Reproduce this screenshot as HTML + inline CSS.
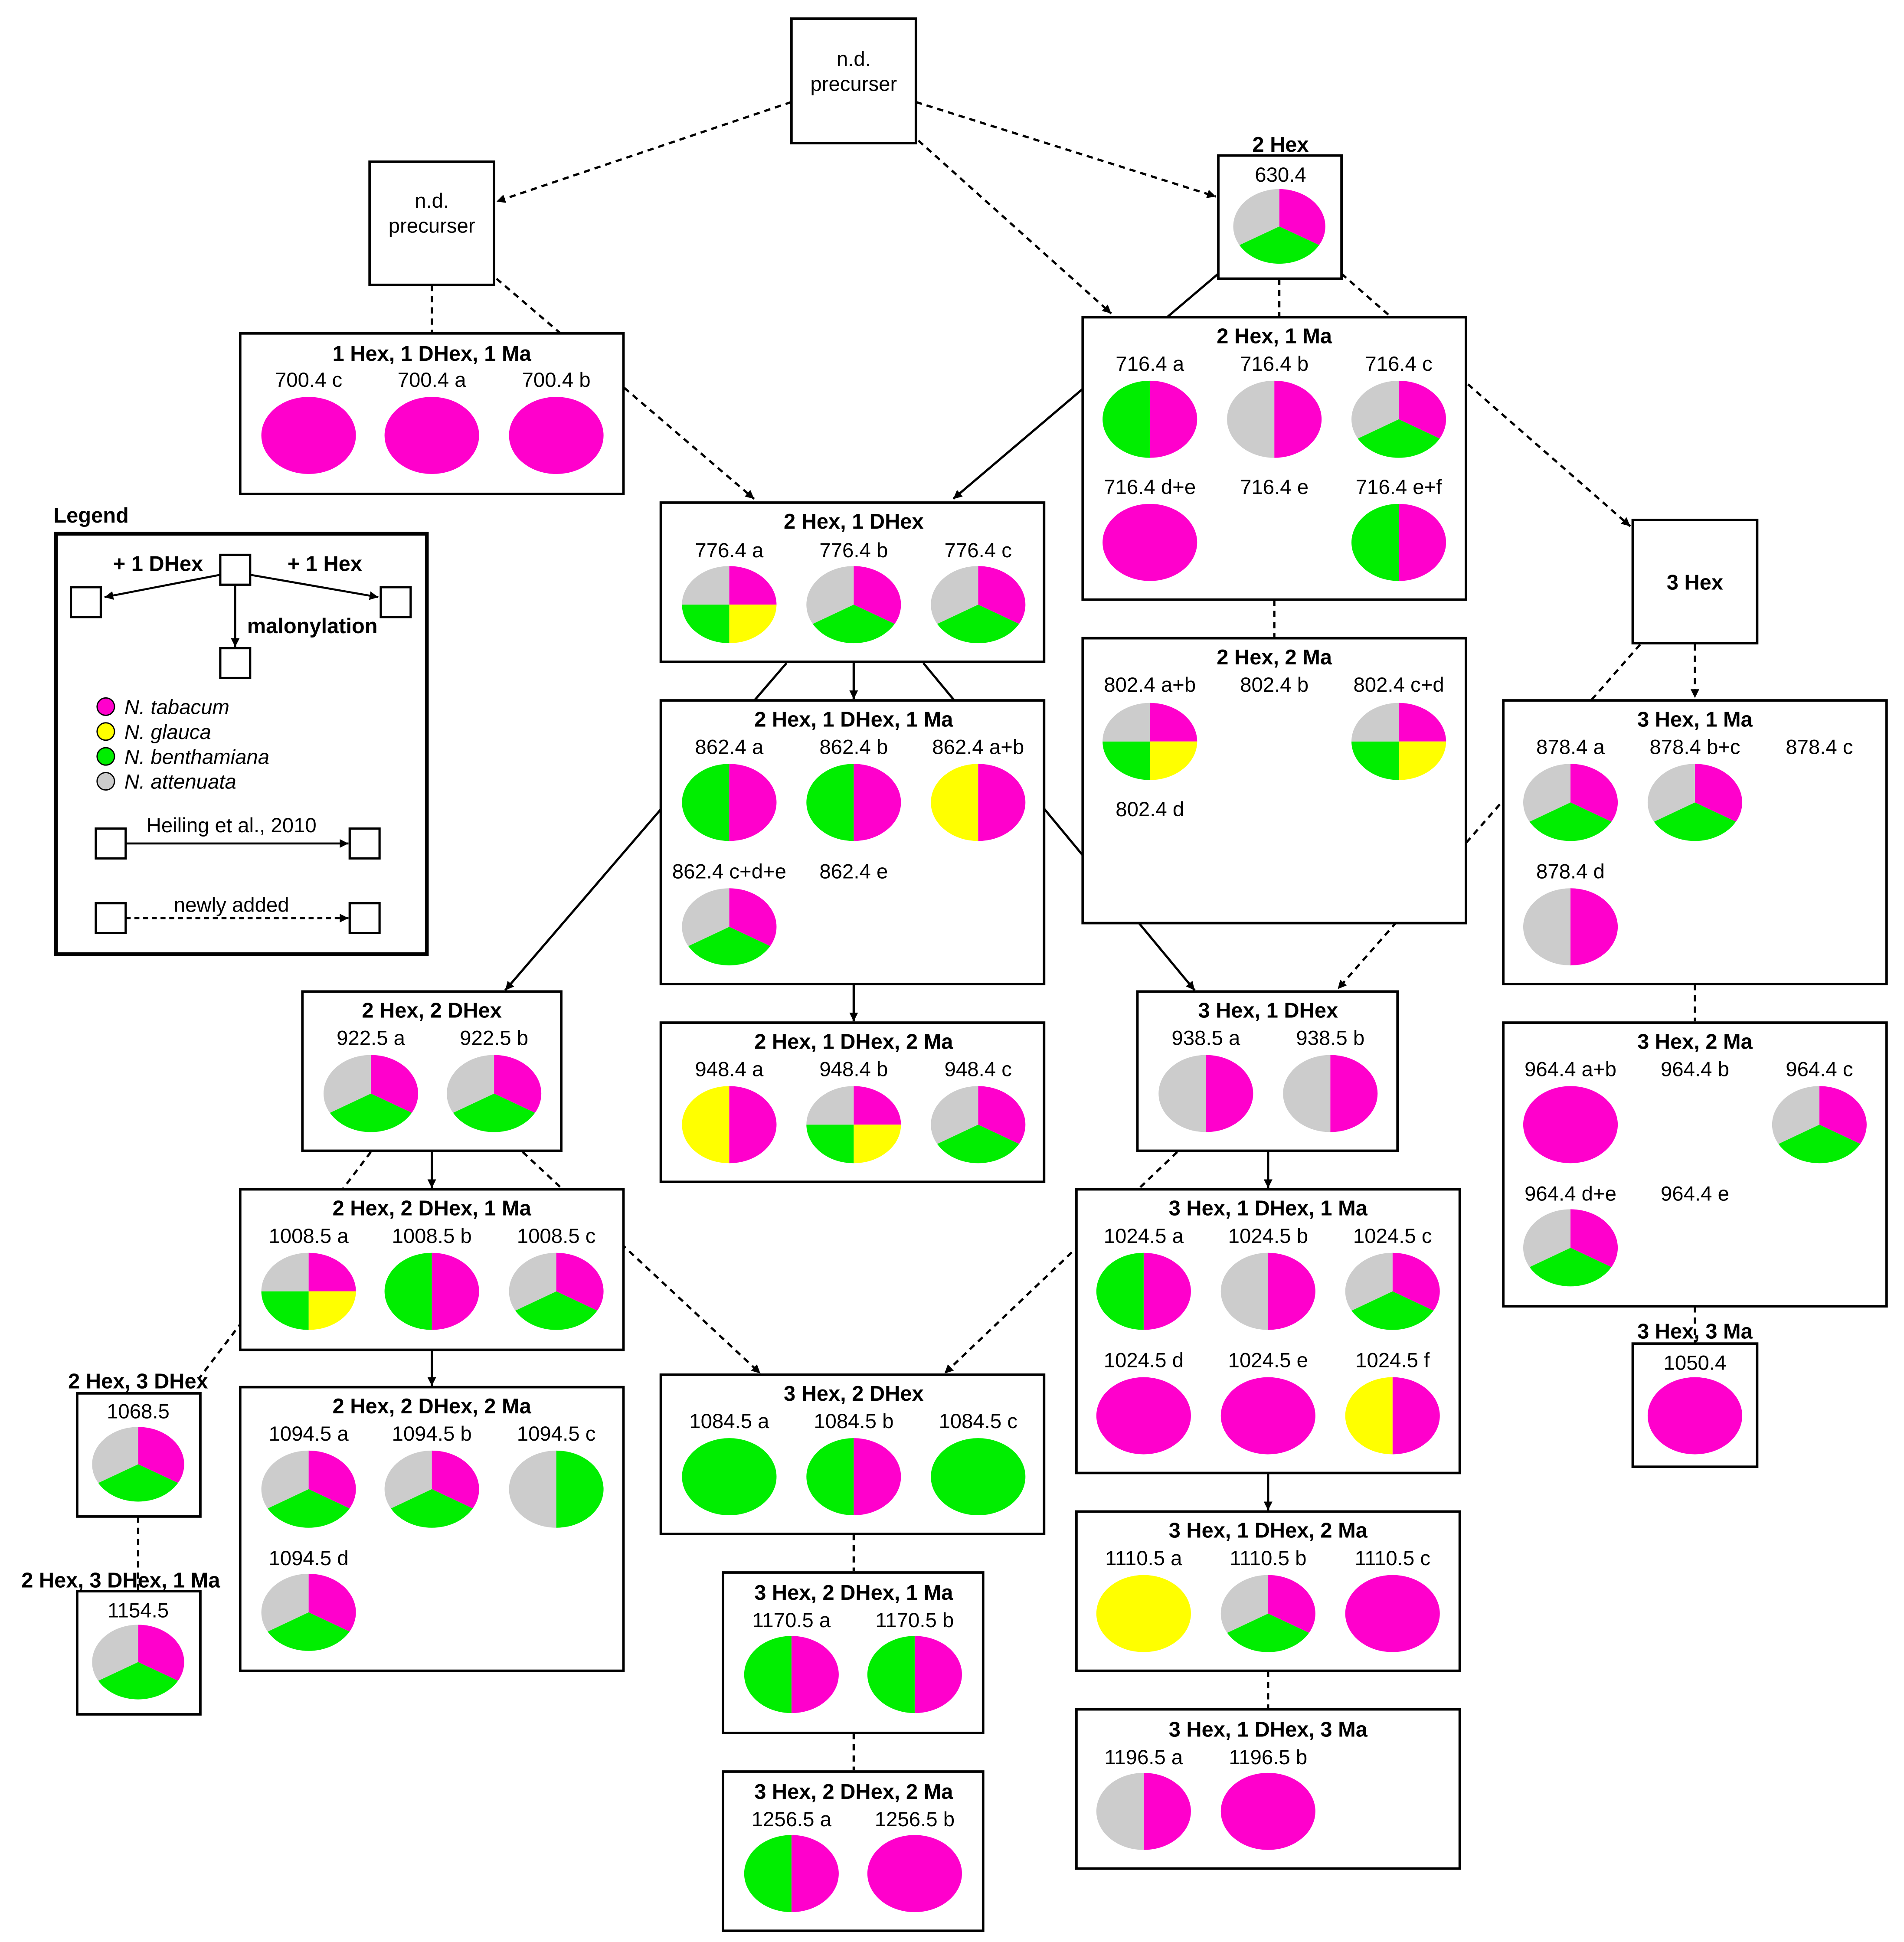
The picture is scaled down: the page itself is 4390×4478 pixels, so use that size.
<!DOCTYPE html>
<html><head><meta charset="utf-8"><style>html,body{margin:0;padding:0;background:#fff}svg{display:block}</style></head><body>
<svg xmlns="http://www.w3.org/2000/svg" xmlns:xlink="http://www.w3.org/1999/xlink" width="4390" height="4478" viewBox="0 0 1530 1561" preserveAspectRatio="none" font-family="Liberation Sans, Arial, sans-serif">
<defs>
<marker id="ar" viewBox="0 0 10 10" refX="10" refY="5" markerWidth="7" markerHeight="7" orient="auto" markerUnits="userSpaceOnUse"><path d="M0,0 L10,5 L0,10 z" fill="#000"/></marker>
<g id="p3"><path d="M0,0 L0,-1 A1,1 0 0,1 0.866,0.5 Z" fill="#ff00cc"/><path d="M0,0 L0.866,0.5 A1,1 0 0,1 -0.866,0.5 Z" fill="#00ee00"/><path d="M0,0 L-0.866,0.5 A1,1 0 0,1 0,-1 Z" fill="#cccccc"/></g>
<g id="pGM"><path d="M0,-1 A1,1 0 0,1 0,1 Z" fill="#ff00cc"/><path d="M0,1 A1,1 0 0,1 0,-1 Z" fill="#00ee00"/></g>
<g id="pAM"><path d="M0,-1 A1,1 0 0,1 0,1 Z" fill="#ff00cc"/><path d="M0,1 A1,1 0 0,1 0,-1 Z" fill="#cccccc"/></g>
<g id="pYM"><path d="M0,-1 A1,1 0 0,1 0,1 Z" fill="#ff00cc"/><path d="M0,1 A1,1 0 0,1 0,-1 Z" fill="#ffff00"/></g>
<g id="pAG"><path d="M0,-1 A1,1 0 0,1 0,1 Z" fill="#00ee00"/><path d="M0,1 A1,1 0 0,1 0,-1 Z" fill="#cccccc"/></g>
<g id="pM"><ellipse cx="0" cy="0" rx="1" ry="1" fill="#ff00cc"/></g>
<g id="pG"><ellipse cx="0" cy="0" rx="1" ry="1" fill="#00ee00"/></g>
<g id="pY"><ellipse cx="0" cy="0" rx="1" ry="1" fill="#ffff00"/></g>
<g id="pQ"><path d="M0,0 L0,-1 A1,1 0 0,1 1,0 Z" fill="#ff00cc"/><path d="M0,0 L1,0 A1,1 0 0,1 0,1 Z" fill="#ffff00"/><path d="M0,0 L0,1 A1,1 0 0,1 -1,0 Z" fill="#00ee00"/><path d="M0,0 L-1,0 A1,1 0 0,1 0,-1 Z" fill="#cccccc"/></g>
</defs>
<rect width="1530" height="1561" fill="#fff"/>

<!-- connectors -->
<g stroke="#000" stroke-width="1.8" fill="none">
<g stroke-dasharray="5,4">
<line x1="636" y1="82" x2="399" y2="162" marker-end="url(#ar)"/>
<line x1="736" y1="82" x2="977" y2="158" marker-end="url(#ar)"/>
<line x1="738" y1="113" x2="893" y2="252" marker-end="url(#ar)"/>
<line x1="347" y1="229" x2="347" y2="267"/>
<line x1="399" y1="224" x2="606" y2="401" marker-end="url(#ar)"/>
<line x1="1028" y1="224" x2="1028" y2="254"/>
<line x1="1078" y1="220" x2="1310" y2="423" marker-end="url(#ar)"/>
<line x1="1024" y1="482" x2="1024" y2="512"/>
<line x1="1318" y1="518" x2="1075" y2="795" marker-end="url(#ar)"/>
<line x1="1362" y1="518" x2="1362" y2="561" marker-end="url(#ar)"/>
<line x1="1362" y1="791" x2="1362" y2="821"/>
<line x1="1362" y1="1050" x2="1362" y2="1080"/>
<line x1="298" y1="926" x2="160" y2="1108"/>
<line x1="420" y1="926" x2="611" y2="1104" marker-end="url(#ar)"/>
<line x1="946" y1="926" x2="759" y2="1104" marker-end="url(#ar)"/>
<line x1="1019" y1="1343" x2="1019" y2="1373"/>
<line x1="686" y1="1233" x2="686" y2="1263"/>
<line x1="686" y1="1393" x2="686" y2="1423"/>
<line x1="111" y1="1219" x2="111" y2="1278"/>
</g>
<line x1="979" y1="220" x2="766" y2="401" marker-end="url(#ar)"/>
<line x1="686" y1="532" x2="686" y2="562" marker-end="url(#ar)"/>
<line x1="632" y1="533" x2="406" y2="796" marker-end="url(#ar)"/>
<line x1="742" y1="533" x2="960" y2="796" marker-end="url(#ar)"/>
<line x1="686" y1="791" x2="686" y2="821" marker-end="url(#ar)"/>
<line x1="347" y1="925" x2="347" y2="955" marker-end="url(#ar)"/>
<line x1="1019" y1="925" x2="1019" y2="955" marker-end="url(#ar)"/>
<line x1="347" y1="1085" x2="347" y2="1114" marker-end="url(#ar)"/>
<line x1="1019" y1="1184" x2="1019" y2="1214" marker-end="url(#ar)"/>
</g>

<!-- boxes -->
<g fill="#fff" stroke="#000" stroke-width="2">
<rect x="636" y="15" width="100" height="100"/>
<rect x="297" y="130" width="100" height="99"/>
<rect x="979" y="125" width="99" height="99"/>
<rect x="193" y="268" width="308" height="129"/>
<rect x="870" y="255" width="308" height="227"/>
<rect x="531" y="404" width="308" height="128"/>
<rect x="1312" y="418" width="100" height="99"/>
<rect x="870" y="513" width="308" height="229"/>
<rect x="1208" y="563" width="308" height="228"/>
<rect x="531" y="563" width="308" height="228"/>
<rect x="243" y="797" width="208" height="128"/>
<rect x="531" y="822" width="308" height="128"/>
<rect x="914" y="797" width="209" height="128"/>
<rect x="1208" y="822" width="308" height="228"/>
<rect x="1312" y="1080" width="100" height="99"/>
<rect x="193" y="956" width="308" height="129"/>
<rect x="865" y="956" width="308" height="228"/>
<rect x="62" y="1120" width="99" height="99"/>
<rect x="193" y="1115" width="308" height="228"/>
<rect x="531" y="1105" width="308" height="128"/>
<rect x="865" y="1215" width="308" height="128"/>
<rect x="62" y="1279" width="99" height="99"/>
<rect x="581" y="1264" width="209" height="129"/>
<rect x="865" y="1374" width="308" height="128"/>
<rect x="581" y="1424" width="209" height="128"/>
</g>

<!-- pies -->
<g>
<use xlink:href="#p3" transform="translate(1028,182) scale(37,30)"/>
<use xlink:href="#pM" transform="translate(248,350) scale(38,31)"/>
<use xlink:href="#pM" transform="translate(347,350) scale(38,31)"/>
<use xlink:href="#pM" transform="translate(447,350) scale(38,31)"/>
<use xlink:href="#pGM" transform="translate(924,337) scale(38,31)"/>
<use xlink:href="#pAM" transform="translate(1024,337) scale(38,31)"/>
<use xlink:href="#p3" transform="translate(1124,337) scale(38,31)"/>
<use xlink:href="#pM" transform="translate(924,436) scale(38,31)"/>
<use xlink:href="#pGM" transform="translate(1124,436) scale(38,31)"/>
<use xlink:href="#pQ" transform="translate(586,486) scale(38,31)"/>
<use xlink:href="#p3" transform="translate(686,486) scale(38,31)"/>
<use xlink:href="#p3" transform="translate(786,486) scale(38,31)"/>
<use xlink:href="#pQ" transform="translate(924,596) scale(38,31)"/>
<use xlink:href="#pQ" transform="translate(1124,596) scale(38,31)"/>
<use xlink:href="#p3" transform="translate(1262,645) scale(38,31)"/>
<use xlink:href="#p3" transform="translate(1362,645) scale(38,31)"/>
<use xlink:href="#pAM" transform="translate(1262,745) scale(38,31)"/>
<use xlink:href="#pGM" transform="translate(586,645) scale(38,31)"/>
<use xlink:href="#pGM" transform="translate(686,645) scale(38,31)"/>
<use xlink:href="#pYM" transform="translate(786,645) scale(38,31)"/>
<use xlink:href="#p3" transform="translate(586,745) scale(38,31)"/>
<use xlink:href="#p3" transform="translate(298,879) scale(38,31)"/>
<use xlink:href="#p3" transform="translate(397,879) scale(38,31)"/>
<use xlink:href="#pYM" transform="translate(586,904) scale(38,31)"/>
<use xlink:href="#pQ" transform="translate(686,904) scale(38,31)"/>
<use xlink:href="#p3" transform="translate(786,904) scale(38,31)"/>
<use xlink:href="#pAM" transform="translate(969,879) scale(38,31)"/>
<use xlink:href="#pAM" transform="translate(1069,879) scale(38,31)"/>
<use xlink:href="#pM" transform="translate(1262,904) scale(38,31)"/>
<use xlink:href="#p3" transform="translate(1462,904) scale(38,31)"/>
<use xlink:href="#p3" transform="translate(1262,1003) scale(38,31)"/>
<use xlink:href="#pM" transform="translate(1362,1138) scale(38,31)"/>
<use xlink:href="#pQ" transform="translate(248,1038) scale(38,31)"/>
<use xlink:href="#pGM" transform="translate(347,1038) scale(38,31)"/>
<use xlink:href="#p3" transform="translate(447,1038) scale(38,31)"/>
<use xlink:href="#pGM" transform="translate(919,1038) scale(38,31)"/>
<use xlink:href="#pAM" transform="translate(1019,1038) scale(38,31)"/>
<use xlink:href="#p3" transform="translate(1119,1038) scale(38,31)"/>
<use xlink:href="#pM" transform="translate(919,1138) scale(38,31)"/>
<use xlink:href="#pM" transform="translate(1019,1138) scale(38,31)"/>
<use xlink:href="#pYM" transform="translate(1119,1138) scale(38,31)"/>
<use xlink:href="#p3" transform="translate(111,1177) scale(37,30)"/>
<use xlink:href="#p3" transform="translate(248,1197) scale(38,31)"/>
<use xlink:href="#p3" transform="translate(347,1197) scale(38,31)"/>
<use xlink:href="#pAG" transform="translate(447,1197) scale(38,31)"/>
<use xlink:href="#p3" transform="translate(248,1296) scale(38,31)"/>
<use xlink:href="#pG" transform="translate(586,1187) scale(38,31)"/>
<use xlink:href="#pGM" transform="translate(686,1187) scale(38,31)"/>
<use xlink:href="#pG" transform="translate(786,1187) scale(38,31)"/>
<use xlink:href="#pY" transform="translate(919,1297) scale(38,31)"/>
<use xlink:href="#p3" transform="translate(1019,1297) scale(38,31)"/>
<use xlink:href="#pM" transform="translate(1119,1297) scale(38,31)"/>
<use xlink:href="#p3" transform="translate(111,1336) scale(37,30)"/>
<use xlink:href="#pGM" transform="translate(636,1346) scale(38,31)"/>
<use xlink:href="#pGM" transform="translate(735,1346) scale(38,31)"/>
<use xlink:href="#pAM" transform="translate(919,1456) scale(38,31)"/>
<use xlink:href="#pM" transform="translate(1019,1456) scale(38,31)"/>
<use xlink:href="#pGM" transform="translate(636,1506) scale(38,31)"/>
<use xlink:href="#pM" transform="translate(735,1506) scale(38,31)"/>
</g>

<!-- text -->
<g font-size="16.5" text-anchor="middle" fill="#000">
<text x="686" y="53">n.d.</text><text x="686" y="73">precurser</text>
<text x="347" y="167">n.d.</text><text x="347" y="187">precurser</text>
<text x="1029" y="146">630.4</text>
<g font-weight="bold" font-size="17">
<text x="1029" y="122">2 Hex</text>
<text x="347" y="290">1 Hex, 1 DHex, 1 Ma</text>
<text x="1024" y="276">2 Hex, 1 Ma</text>
<text x="686" y="425">2 Hex, 1 DHex</text>
<text x="1362" y="474">3 Hex</text>
<text x="1024" y="534">2 Hex, 2 Ma</text>
<text x="1362" y="584">3 Hex, 1 Ma</text>
<text x="686" y="584">2 Hex, 1 DHex, 1 Ma</text>
<text x="347" y="818">2 Hex, 2 DHex</text>
<text x="686" y="843">2 Hex, 1 DHex, 2 Ma</text>
<text x="1019" y="818">3 Hex, 1 DHex</text>
<text x="1362" y="843">3 Hex, 2 Ma</text>
<text x="1362" y="1076">3 Hex, 3 Ma</text>
<text x="347" y="977">2 Hex, 2 DHex, 1 Ma</text>
<text x="1019" y="977">3 Hex, 1 DHex, 1 Ma</text>
<text x="111" y="1116">2 Hex, 3 DHex</text>
<text x="347" y="1136">2 Hex, 2 DHex, 2 Ma</text>
<text x="686" y="1126">3 Hex, 2 DHex</text>
<text x="1019" y="1236">3 Hex, 1 DHex, 2 Ma</text>
<text x="97" y="1276">2 Hex, 3 DHex, 1 Ma</text>
<text x="686" y="1286">3 Hex, 2 DHex, 1 Ma</text>
<text x="1019" y="1396">3 Hex, 1 DHex, 3 Ma</text>
<text x="686" y="1446">3 Hex, 2 DHex, 2 Ma</text>
</g>
<text x="248" y="311">700.4 c</text><text x="347" y="311">700.4 a</text><text x="447" y="311">700.4 b</text>
<text x="924" y="298">716.4 a</text><text x="1024" y="298">716.4 b</text><text x="1124" y="298">716.4 c</text>
<text x="924" y="397">716.4 d+e</text><text x="1024" y="397">716.4 e</text><text x="1124" y="397">716.4 e+f</text>
<text x="586" y="448">776.4 a</text><text x="686" y="448">776.4 b</text><text x="786" y="448">776.4 c</text>
<text x="924" y="556">802.4 a+b</text><text x="1024" y="556">802.4 b</text><text x="1124" y="556">802.4 c+d</text>
<text x="924" y="656">802.4 d</text>
<text x="1262" y="606">878.4 a</text><text x="1362" y="606">878.4 b+c</text><text x="1462" y="606">878.4 c</text>
<text x="1262" y="706">878.4 d</text>
<text x="586" y="606">862.4 a</text><text x="686" y="606">862.4 b</text><text x="786" y="606">862.4 a+b</text>
<text x="586" y="706">862.4 c+d+e</text><text x="686" y="706">862.4 e</text>
<text x="298" y="840">922.5 a</text><text x="397" y="840">922.5 b</text>
<text x="586" y="865">948.4 a</text><text x="686" y="865">948.4 b</text><text x="786" y="865">948.4 c</text>
<text x="969" y="840">938.5 a</text><text x="1069" y="840">938.5 b</text>
<text x="1262" y="865">964.4 a+b</text><text x="1362" y="865">964.4 b</text><text x="1462" y="865">964.4 c</text>
<text x="1262" y="965">964.4 d+e</text><text x="1362" y="965">964.4 e</text>
<text x="1362" y="1101">1050.4</text>
<text x="248" y="999">1008.5 a</text><text x="347" y="999">1008.5 b</text><text x="447" y="999">1008.5 c</text>
<text x="919" y="999">1024.5 a</text><text x="1019" y="999">1024.5 b</text><text x="1119" y="999">1024.5 c</text>
<text x="919" y="1099">1024.5 d</text><text x="1019" y="1099">1024.5 e</text><text x="1119" y="1099">1024.5 f</text>
<text x="111" y="1140">1068.5</text>
<text x="248" y="1158">1094.5 a</text><text x="347" y="1158">1094.5 b</text><text x="447" y="1158">1094.5 c</text>
<text x="248" y="1258">1094.5 d</text>
<text x="586" y="1148">1084.5 a</text><text x="686" y="1148">1084.5 b</text><text x="786" y="1148">1084.5 c</text>
<text x="919" y="1258">1110.5 a</text><text x="1019" y="1258">1110.5 b</text><text x="1119" y="1258">1110.5 c</text>
<text x="111" y="1300">1154.5</text>
<text x="636" y="1308">1170.5 a</text><text x="735" y="1308">1170.5 b</text>
<text x="919" y="1418">1196.5 a</text><text x="1019" y="1418">1196.5 b</text>
<text x="636" y="1468">1256.5 a</text><text x="735" y="1468">1256.5 b</text>
</g>

<!-- legend -->
<text x="43" y="420" font-size="17" font-weight="bold">Legend</text>
<rect x="45" y="429" width="298" height="338" fill="none" stroke="#000" stroke-width="3"/>
<g stroke="#000" stroke-width="1.6" fill="none">
<line x1="177" y1="462" x2="84" y2="480" marker-end="url(#ar)"/>
<line x1="201" y1="462" x2="304" y2="480" marker-end="url(#ar)"/>
<line x1="189" y1="470" x2="189" y2="520" marker-end="url(#ar)"/>
<line x1="101" y1="678" x2="280" y2="678" marker-end="url(#ar)"/>
<line x1="101" y1="738" x2="280" y2="738" stroke-dasharray="4,3" marker-end="url(#ar)"/>
</g>
<g fill="#fff" stroke="#000" stroke-width="1.8">
<rect x="177" y="446" width="24" height="24"/>
<rect x="57" y="472" width="24" height="24"/>
<rect x="306" y="472" width="24" height="24"/>
<rect x="177" y="521" width="24" height="24"/>
<rect x="77" y="666" width="24" height="24"/>
<rect x="281" y="666" width="24" height="24"/>
<rect x="77" y="726" width="24" height="24"/>
<rect x="281" y="726" width="24" height="24"/>
</g>
<g font-size="17" font-weight="bold" text-anchor="middle">
<text x="127" y="459">+ 1 DHex</text>
<text x="261" y="459">+ 1 Hex</text>
<text x="251" y="509">malonylation</text>
</g>
<g stroke="#000" stroke-width="1">
<circle cx="85" cy="568" r="7" fill="#ff00cc"/>
<circle cx="85" cy="588" r="7" fill="#ffff00"/>
<circle cx="85" cy="608" r="7" fill="#00ee00"/>
<circle cx="85" cy="628" r="7" fill="#cccccc"/>
</g>
<g font-size="16.5" font-style="italic">
<text x="100" y="574">N. tabacum</text>
<text x="100" y="594">N. glauca</text>
<text x="100" y="614">N. benthamiana</text>
<text x="100" y="634">N. attenuata</text>
</g>
<g font-size="16.5" text-anchor="middle">
<text x="186" y="669">Heiling et al., 2010</text>
<text x="186" y="733">newly added</text>
</g>
</svg>
</body></html>
